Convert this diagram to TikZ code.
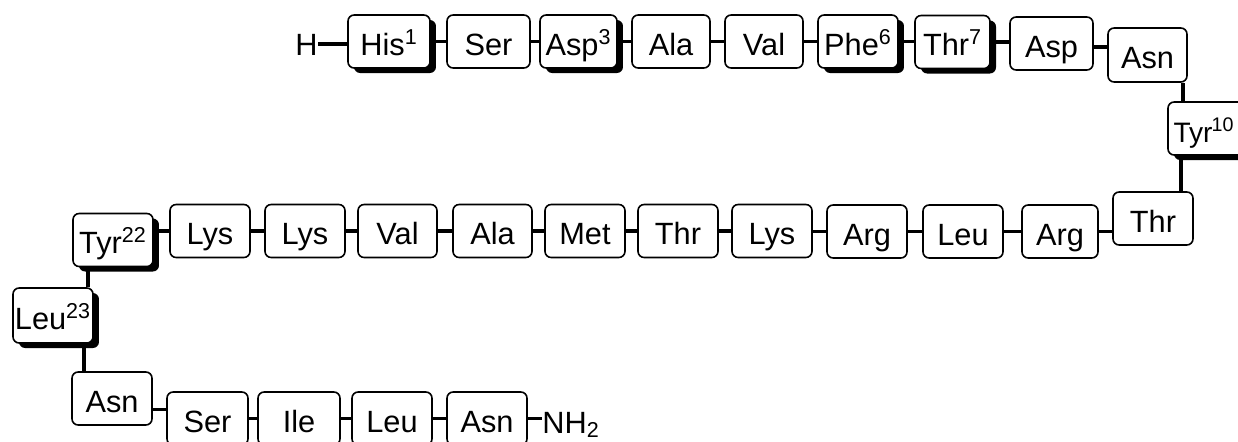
\documentclass[tikz,border=0pt]{standalone}
\usepackage{fontspec}
\setmainfont{Liberation Sans}
\usetikzlibrary{shadows,calc}
\tikzset{
  aabox/.style={draw, line width=0.9pt, rounded corners=3.5pt, fill=white, inner sep=0pt,
    font=\fontsize{17.5}{20}\selectfont, minimum height=1.06cm, text height=15.5pt, text depth=0pt},
  shad/.style={drop shadow={shadow xshift=0.12cm, shadow yshift=-0.1cm, fill=black, opacity=1}},
  link/.style={line width=2.2pt},
  endlabel/.style={inner sep=0pt, font=\fontsize{17.5}{20}\selectfont},
}
\begin{document}
\begin{tikzpicture}[x=0.02cm,y=-0.02cm]
\useasboundingbox (0,0) rectangle (1238,441);
\clip (0,0) rectangle (1238,441);
% top row
\node[endlabel, anchor=base east] (h) at (318,55) {H};
\node[aabox, shad, minimum width=1.64cm] (his) at (389,41.5) {His\textsuperscript{1}};
\node[aabox, minimum width=1.66cm] (ser1) at (488.5,41.5) {Ser};
\node[aabox, shad, minimum width=1.54cm] (asp1) at (578.5,41.5) {Asp\textsuperscript{3}};
\node[aabox, minimum width=1.56cm] (ala1) at (671,41.5) {Ala};
\node[aabox, minimum width=1.56cm] (val1) at (764,41.5) {Val};
\node[aabox, shad, minimum width=1.60cm] (phe) at (858,41.5) {Phe\textsuperscript{6}};
\node[aabox, shad, minimum width=1.50cm] (thr7) at (952.5,42) {Thr\textsuperscript{7}};
\node[aabox, minimum width=1.66cm] (asp2) at (1051.5,43.5) {Asp};
\node[aabox, minimum width=1.58cm, minimum height=1.08cm] (asn1) at (1147.5,55) {Asn};
\node[aabox, shad, minimum width=1.64cm, text width=1.42cm, align=left, font=\fontsize{16}{18}\selectfont] (tyr10) at (1209,128.5) {Tyr\kern-0.5pt\textsuperscript{10}};
% middle row
\node[aabox, minimum width=1.60cm] (thr1) at (1153,218.5) {Thr};
\node[aabox, minimum width=1.52cm] (arg1) at (1060,231.5) {Arg};
\node[aabox, minimum width=1.60cm] (leu1) at (963,231.5) {Leu};
\node[aabox, minimum width=1.60cm] (arg2) at (867,231.5) {Arg};
\node[aabox, minimum width=1.60cm] (lys1) at (772,231) {Lys};
\node[aabox, minimum width=1.60cm] (thr2) at (678,231) {Thr};
\node[aabox, minimum width=1.60cm] (met) at (585,231) {Met};
\node[aabox, minimum width=1.58cm] (ala2) at (492.5,231) {Ala};
\node[aabox, minimum width=1.58cm] (val2) at (397.5,231) {Val};
\node[aabox, minimum width=1.60cm] (lys2) at (305,231) {Lys};
\node[aabox, minimum width=1.60cm] (lys3) at (210,231) {Lys};
\node[aabox, shad, minimum width=1.60cm] (tyr22) at (113,240) {Tyr\textsuperscript{22}};
\node[aabox, shad, minimum width=1.60cm, minimum height=1.10cm] (leu23) at (53,315.5) {Leu\textsuperscript{23}};
% bottom row
\node[aabox, minimum width=1.60cm] (asn2) at (112,398.5) {Asn};
\node[aabox, minimum width=1.62cm] (ser2) at (207.5,418.5) {Ser};
\node[aabox, minimum width=1.64cm] (ile) at (299,418.5) {Ile};
\node[aabox, minimum width=1.60cm] (leu3) at (392,418.5) {Leu};
\node[aabox, minimum width=1.60cm] (asn3) at (487,418.5) {Asn};
\node[endlabel, anchor=base west] (nh2) at (542,433) {NH\textsubscript{2}};
% connectors
\draw[link] (h.east) -- (h.east -| his.west);
\draw[link] (his.east) -- (ser1.west);
\draw[link] (ser1.east) -- (asp1.west);
\draw[link] (asp1.east) -- (ala1.west);
\draw[link] (ala1.east) -- (val1.west);
\draw[link] (val1.east) -- (phe.west);
\draw[link] (phe.east) -- (phe.east -| thr7.west);
\draw[link] (thr7.east) -- (thr7.east -| asp2.west);
\draw[link] ([yshift=-0.07cm]asp2.east) -- ([yshift=-0.07cm]asp2.east -| asn1.west);
\draw[link] ([xshift=-0.1cm]asn1.south east) -- ([xshift=-0.1cm]asn1.south east |- tyr10.north);
\draw[link] ([xshift=-0.26cm]thr1.north east) -- ([xshift=-0.26cm]thr1.north east |- tyr10.south);
\draw[link] (arg1.east) -- (arg1.east -| thr1.west);
\draw[link] (arg1.west) -- (leu1.east);
\draw[link] (leu1.west) -- (arg2.east);
\draw[link] (arg2.west) -- (arg2.west -| lys1.east);
\draw[link] (lys1.west) -- (thr2.east);
\draw[link] (thr2.west) -- (met.east);
\draw[link] (met.west) -- (ala2.east);
\draw[link] (ala2.west) -- (val2.east);
\draw[link] (val2.west) -- (lys2.east);
\draw[link] (lys2.west) -- (lys3.east);
\draw[link] (lys3.west) -- (lys3.west -| tyr22.east);
\draw[link] ([xshift=-0.12cm]leu23.north east) -- ([xshift=-0.12cm]leu23.north east |- tyr22.south);
\draw[link] ([xshift=0.26cm]asn2.north west) -- ([xshift=0.26cm]asn2.north west |- leu23.south);
\draw[link] ([yshift=-0.22cm]asn2.east) -- ([yshift=-0.22cm]asn2.east -| ser2.west);
\draw[link] (ser2.east) -- (ile.west);
\draw[link] (ile.east) -- (leu3.west);
\draw[link] (leu3.east) -- (asn3.west);
\draw[link] (asn3.east) -- (asn3.east -| nh2.west);
\end{tikzpicture}
\end{document}
